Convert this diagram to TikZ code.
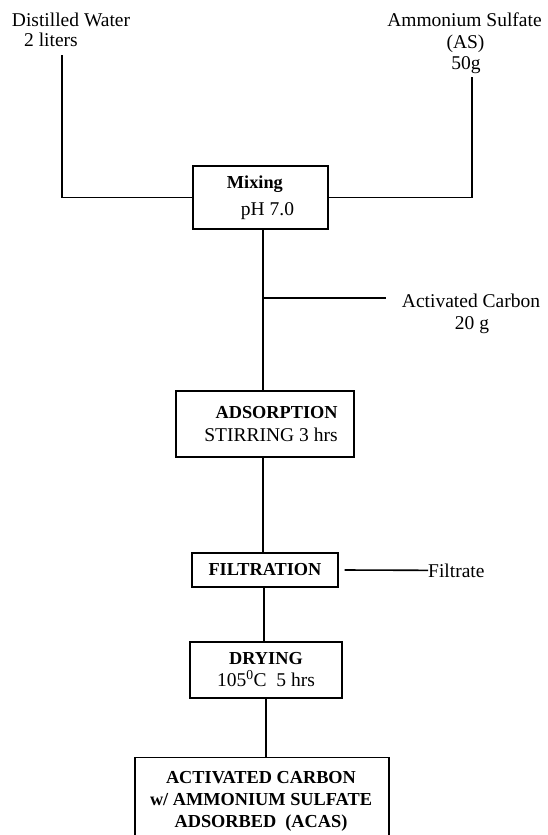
\documentclass[tikz,border=0pt]{standalone}
\usepackage{fontspec}
\setmainfont{Liberation Serif}
\newcommand\bftext[1]{{\fontsize{18.3}{22}\selectfont\bfseries #1}}
\begin{document}
\begin{tikzpicture}[x=1pt,y=-1pt,
  every node/.style={font=\fontsize{19.5}{22}\selectfont, inner sep=0pt},
  box/.style={draw, line width=1.3pt, inner sep=0pt},
  conn/.style={line width=1.6pt},
  mainln/.style={line width=2.2pt}]
\fill[white] (0,0) rectangle (547,835);
\useasboundingbox (0,0) rectangle (547,835);
\clip (0,0) rectangle (547,835);

% input labels
\node[anchor=base] (dw1) at (71,26) {Distilled Water};
\node[anchor=base] (dw2) at (51,46) {2 liters};
\node[anchor=base] (as1) at (464.5,27) {Ammonium Sulfate};
\node[anchor=base] (as2) at (465.5,48) {(AS)};
\node[anchor=base] (as3) at (466,69) {50g};

% process boxes
\node[box, minimum width=135pt, minimum height=63pt, align=left] (mix) at (260.5,197.5)
  {\bftext{Mixing}\\[5pt]\hspace*{14pt}pH 7.0};
\node[box, minimum width=178pt, minimum height=66pt, align=right] (ads) at (265,424)
  {\bftext{ADSORPTION}\\[1pt]\hspace*{12pt}STIRRING 3 hrs};
\node[box, minimum width=146pt, minimum height=34pt] (filt) at (265,570) {\bftext{FILTRATION}};
\node[box, minimum width=152pt, minimum height=56pt, align=center] (dry) at (266,670)
  {\bftext{DRYING}\\105\textsuperscript{0}C~~5 hrs};
\node[box, anchor=north, minimum width=254pt, minimum height=110pt] (fin) at (262,757) {};
\node[align=center] (fintext) at (261,801)
  {\bftext{ACTIVATED CARBON}\\\bftext{w/ AMMONIUM SULFATE}\\\bftext{ADSORBED~~(ACAS)}};

% side labels
\node[anchor=base] (ac1) at (471,307) {Activated Carbon};
\node[anchor=base] (ac2) at (472,329) {20 g};
\node[anchor=base west] (filtrate) at (428,577) {Filtrate};

% connectors
\coordinate (dwtop) at (62,55);
\coordinate (astop) at (472,77);
\draw[conn] (dwtop) |- (mix.west);
\draw[conn] (astop) |- (mix.east);
\draw[mainln] ([xshift=2.5pt]mix.south) -- ([xshift=-2pt]ads.north);
\coordinate (acj) at (263,298);
\coordinate (acend) at (386,298);
\draw[conn] (acj) -- (acend);
\draw[mainln] ([xshift=-2pt]ads.south) -- ([xshift=-2pt]filt.north);
\draw[conn] ([xshift=6pt]filt.east) -- (filtrate.west);
\draw[mainln] ([xshift=-1pt]filt.south) -- ([xshift=-2pt]dry.north);
\draw[mainln] (dry.south) -- (dry.south |- fin.north);
\end{tikzpicture}
\end{document}
